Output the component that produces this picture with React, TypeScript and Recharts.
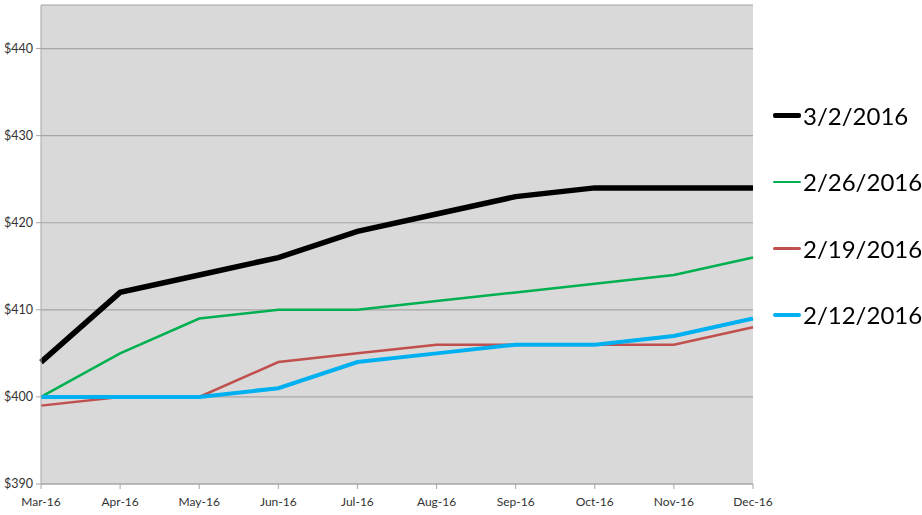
import React from 'react';
import { LineChart, Line, XAxis, YAxis, CartesianGrid } from 'recharts';

const months = ['Mar-16', 'Apr-16', 'May-16', 'Jun-16', 'Jul-16', 'Aug-16', 'Sep-16', 'Oct-16', 'Nov-16', 'Dec-16'];
const mar02 = [404, 412, 414, 416, 419, 421, 423, 424, 424, 424];
const feb26 = [400, 405, 409, 410, 410, 411, 412, 413, 414, 416];
const feb19 = [399, 400, 400, 404, 405, 406, 406, 406, 406, 408];
const feb12 = [400, 400, 400, 401, 404, 405, 406, 406, 407, 409];
const yTicks = [390, 400, 410, 420, 430, 440];

const data = months.map((m, i) => ({
  month: m,
  mar02: mar02[i],
  feb26: feb26[i],
  feb19: feb19[i],
  feb12: feb12[i],
}));

const legendItems = [
  { label: '3/2/2016', color: '#000000', width: 5 },
  { label: '2/26/2016', color: '#00b050', width: 2.5 },
  { label: '2/19/2016', color: '#c0504d', width: 2.5 },
  { label: '2/12/2016', color: '#00b0f0', width: 4 },
];

const font = 'Lato, "Open Sans", sans-serif';

// legend sits to the right of the plot, like the Excel original
function SideLegend() {
  return (
    <div style={{ position: 'absolute', left: 773, top: 82, fontFamily: font }}>
      {legendItems.map((it) => (
        <div key={it.label} style={{ display: 'flex', alignItems: 'center', height: 66.5 }}>
          <div style={{ width: 28, height: it.width, background: it.color, borderRadius: 2 }} />
          <span style={{ fontSize: 24, color: '#000', marginLeft: 2 }}>{it.label}</span>
        </div>
      ))}
    </div>
  );
}

export default function App() {
  return (
    <div style={{ position: 'fixed', left: 0, top: 0, width: 922, height: 515, background: '#fff' }}>
      <LineChart width={922} height={515} data={data} margin={{ top: 5, right: 169, left: 0, bottom: 0 }}>
        <CartesianGrid vertical={false} fill="#d9d9d9" stroke="#a6a6a6" strokeWidth={1.2} />
        <XAxis
          dataKey="month"
          height={31}
          stroke="#a6a6a6"
          tickSize={5}
          tickMargin={8}
          interval={0}
          tick={{ fontSize: 12, fill: '#333', fontFamily: font }}
        />
        <YAxis
          width={41}
          domain={[390, 445]}
          ticks={yTicks}
          allowDataOverflow
          stroke="#a6a6a6"
          tickSize={5}
          tickMargin={3}
          tickFormatter={(v) => `$${v}`}
          tick={{ fontSize: 12.5, fill: '#333', fontFamily: font }}
        />
        <Line type="linear" dataKey="feb19" stroke="#c0504d" strokeWidth={2.5} dot={false} isAnimationActive={false} />
        <Line type="linear" dataKey="feb26" stroke="#00b050" strokeWidth={2.5} dot={false} isAnimationActive={false} />
        <Line type="linear" dataKey="feb12" stroke="#00b0f0" strokeWidth={4} dot={false} isAnimationActive={false} />
        <Line type="linear" dataKey="mar02" stroke="#000000" strokeWidth={5.5} dot={false} isAnimationActive={false} />
      </LineChart>
      <SideLegend />
    </div>
  );
}
